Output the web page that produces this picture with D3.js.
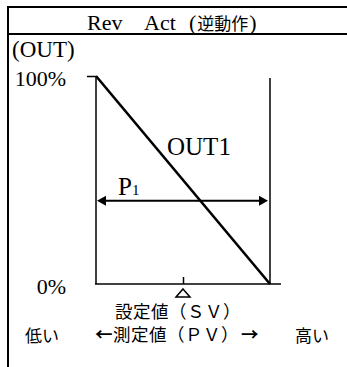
<!DOCTYPE html>
<html>
<head>
<meta charset="utf-8">
<script src="https://cdn.jsdelivr.net/npm/d3@7"></script>
<style>
body { margin: 0; background: #fff; }
text { fill: #000; }
svg .lat { font-family: "Liberation Serif", "Times New Roman", "DejaVu Serif", serif; }
svg .jp { font-family: "Noto Sans CJK JP", "Noto Sans CJK SC", sans-serif; }
</style>
</head>
<body>
<div id="chart"></div>
<script>
// reverse action: OUT1 drops from 100% to 0% across band P1 centred on SV
var pvValues = [-1, 1];
var outValues = [100, 0];
var svValue = 0;
var yTickValues = [100, 0];
var yTickLabels = ["100%", "0%"];
var bandLevel = 40;
var seriesName = "OUT1";

var width = 347, height = 367;

var x = d3.scaleLinear().domain(d3.extent(pvValues)).range([96, 270]);
var y = d3.scaleLinear().domain([0, 100]).range([284, 76]);

var svg = d3.select("#chart").append("svg")
  .attr("width", width)
  .attr("height", height);

svg.append("rect").attr("width", width).attr("height", height).attr("fill", "#fff");

// frame + title strip
svg.append("path")
  .attr("d", "M8,367V7H347M8,34H347")
  .attr("fill", "none")
  .attr("stroke", "#000")
  .attr("stroke-width", 2);

var title = svg.append("text").attr("class", "lat").attr("y", 30).attr("font-size", 22);
title.append("tspan").attr("x", 87).text("Rev");
title.append("tspan").attr("x", 144).text("Act");
title.append("tspan").attr("x", 189).text("(");
title.append("tspan").attr("class", "jp").attr("font-size", 17).attr("dx", 1).text("逆動作");
title.append("tspan").attr("dx", 1).text(")");

svg.append("text").attr("class", "lat")
  .attr("x", 12).attr("y", 57)
  .attr("font-size", 23)
  .text("(OUT)");

// y axis labels, tick only on 100%
var yAxis = d3.axisLeft(y)
  .tickValues(yTickValues)
  .tickFormat(function(d, i) { return yTickLabels[i]; })
  .tickSizeInner(9)
  .tickSizeOuter(0)
  .tickPadding(21);

var gy = svg.append("g")
  .attr("transform", "translate(" + x(pvValues[0]) + ",0)")
  .call(yAxis)
  .attr("font-family", null);
gy.select(".domain").remove();
gy.selectAll(".tick line")
  .attr("stroke", "#000")
  .attr("stroke-width", 1.5)
  .attr("display", function(d) { return d === 0 ? "none" : null; });
gy.selectAll(".tick text")
  .attr("class", "lat")
  .attr("font-size", 22)
  .attr("dy", "0.42em");

// band edges
svg.append("line")
  .attr("x1", x(pvValues[0])).attr("x2", x(pvValues[0]))
  .attr("y1", y(100)).attr("y2", y(0))
  .attr("stroke", "#000").attr("stroke-width", 1.5);
svg.append("line")
  .attr("x1", x(pvValues[1])).attr("x2", x(pvValues[1]))
  .attr("y1", y(100) + 2).attr("y2", y(0))
  .attr("stroke", "#000").attr("stroke-width", 1.5);

// x baseline
svg.append("line")
  .attr("x1", x(pvValues[0]) - 1).attr("x2", x(pvValues[1]) + 11)
  .attr("y1", y(0)).attr("y2", y(0))
  .attr("stroke", "#000").attr("stroke-width", 1.5);

var xAxis = d3.axisBottom(x)
  .tickValues([svValue])
  .tickFormat("")
  .tickSizeInner(-7)
  .tickSizeOuter(0);
var gx = svg.append("g")
  .attr("transform", "translate(0," + y(0) + ")")
  .call(xAxis);
gx.select(".domain").remove();
gx.selectAll(".tick line").attr("stroke", "#000").attr("stroke-width", 1.5);

// SV marker
var sx = x(svValue);
svg.append("path")
  .attr("d", "M" + sx + ",289L" + (sx + 7) + ",297L" + (sx - 7) + ",297Z")
  .attr("fill", "#fff")
  .attr("stroke", "#000")
  .attr("stroke-width", 1.5);

// OUT1 line
var line = d3.line()
  .x(function(d, i) { return x(pvValues[i]); })
  .y(function(d) { return y(d); });

svg.append("path")
  .datum(outValues)
  .attr("d", line)
  .attr("fill", "none")
  .attr("stroke", "#000")
  .attr("stroke-width", 2.6);

svg.append("text").attr("class", "lat")
  .attr("x", 167).attr("y", 155)
  .attr("font-size", 25)
  .text(seriesName);

// P1 double arrow
var ay = y(bandLevel);
var ax0 = x(pvValues[0]) + 1, ax1 = x(pvValues[1]) - 2;
svg.append("line")
  .attr("x1", ax0 + 6).attr("x2", ax1 - 6)
  .attr("y1", ay).attr("y2", ay)
  .attr("stroke", "#000").attr("stroke-width", 2);
svg.append("path")
  .attr("d", "M" + ax0 + "," + ay + "L" + (ax0 + 9) + "," + (ay - 5) + "L" + (ax0 + 9) + "," + (ay + 5) + "Z"
    + "M" + ax1 + "," + ay + "L" + (ax1 - 9) + "," + (ay - 5) + "L" + (ax1 - 9) + "," + (ay + 5) + "Z")
  .attr("fill", "#000");

var p1 = svg.append("text").attr("class", "lat").attr("x", 118).attr("y", ay - 6).attr("font-size", 25);
p1.append("tspan").text("P");
p1.append("tspan").attr("font-size", 15).text("1");

// bottom captions
svg.append("text").attr("class", "jp")
  .attr("x", 115).attr("y", 318)
  .attr("font-size", 17.5)
  .attr("letter-spacing", 0.5)
  .text("設定値（ＳＶ）");

var pv = svg.append("text").attr("class", "jp")
  .attr("x", 95).attr("y", 341)
  .attr("font-size", 17.5)
  .attr("letter-spacing", 0.5);
pv.append("tspan").attr("font-weight", "bold").text("←");
pv.append("tspan").text("測定値（ＰＶ）");
svg.append("text").attr("class", "jp")
  .attr("x", 241).attr("y", 341)
  .attr("font-size", 17.5)
  .attr("font-weight", "bold")
  .text("→");

svg.append("text").attr("class", "jp")
  .attr("x", 25).attr("y", 342)
  .attr("font-size", 17)
  .text("低い");
svg.append("text").attr("class", "jp")
  .attr("x", 295).attr("y", 342)
  .attr("font-size", 17)
  .text("高い");
</script>
</body>
</html>
